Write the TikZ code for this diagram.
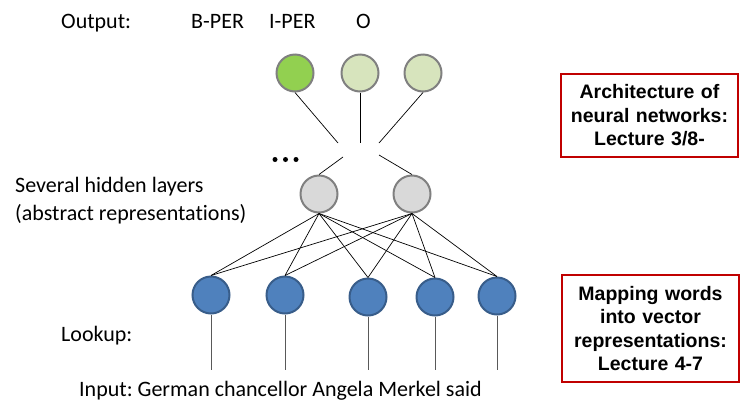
\documentclass[tikz,border=0pt]{standalone}
\usepackage{fontspec}
\setmainfont[Ligatures=NoCommon]{Carlito}
\newfontfamily\boxfont{Liberation Sans}
\definecolor{outon}{HTML}{92D050}
\definecolor{outoff}{HTML}{D7E4BD}
\definecolor{hidfill}{HTML}{D9D9D9}
\definecolor{ringgray}{HTML}{808080}
\definecolor{wordfill}{HTML}{4F81BD}
\definecolor{wordring}{HTML}{385D8A}
\definecolor{boxred}{HTML}{C00000}
\frenchspacing

\tikzset{
	unit/.style={circle, line width=2pt, minimum size=37pt, inner sep=0pt},
	label/.style={anchor=base west, inner sep=0pt, font=\fontsize{22}{27}\selectfont},
	notebox/.style={draw=boxred, line width=2pt, text width=170pt, align=center,
		font=\boxfont\bfseries\fontsize{19.5}{23.5}\selectfont},
	wire/.style={line width=0.7pt},
	stem/.style={line width=1pt, draw=black!65}
}

\begin{document}
\begin{tikzpicture}[x=1pt, y=-1pt]
			\useasboundingbox (0,0) rectangle (754,408);

			\node[unit, draw=ringgray, fill=outon]  (o1) at (295, 73) {};
			\node[unit, draw=ringgray, fill=outoff] (o2) at (360, 73) {};
			\node[unit, draw=ringgray, fill=outoff] (o3) at (423, 73) {};
			\node[unit, draw=ringgray, fill=hidfill] (h1) at (319,194) {};
			\node[unit, draw=ringgray, fill=hidfill] (h2) at (412,194) {};
			\node[unit, draw=wordring, fill=wordfill] (w1) at (211,295) {};
			\node[unit, draw=wordring, fill=wordfill] (w2) at (285,295) {};
			\node[unit, draw=wordring, fill=wordfill] (w3) at (368,297) {};
			\node[unit, draw=wordring, fill=wordfill] (w4) at (435,297) {};
			\node[unit, draw=wordring, fill=wordfill] (w5) at (497,296) {};

			% loose ends above and below
			\coordinate (a1) at (338,143);
			\coordinate (a2) at (360,143);
			\coordinate (a3) at (379,143);
			\coordinate (b1) at (343,157);
			\coordinate (b2) at (379,155);
			\foreach \w/\x in {1/211, 2/285, 3/368, 4/435, 5/497}
			{	\coordinate (e\w) at (\x,370);
			}

			\def\upper {o1/a1, o2/a2, o3/a3}  % output to gap
			\foreach \u\v in \upper
			{	\draw[wire] (\u.south) -- (\v);
			}
			\def\gap {b1/h1, b2/h2}  % gap to hidden
			\foreach \u\v in \gap
			{	\draw[wire] (\u) -- (\v.north);
			}
			\foreach \h in {h1, h2}
			{	\foreach \w in {w1, w2, w3, w4, w5}
				{	\draw[wire] (\h.south) -- (\w.north);
				}
			}
			\foreach \w in {1,...,5}
			{	\draw[stem] (w\w.south) -- (e\w);
			}

			\foreach \x [count=\i] in {275, 285.5, 296}
			{	\fill (\x,159.5) circle (2.5pt) coordinate (dot\i);
			}

			\node[label] (outtxt) at (61,28)  {Output:};
			\node[label] (tag1)   at (191,28) {B-PER};
			\node[label] (tag2)   at (269,28) {I-PER};
			\node[label] (tag3)   at (356,28) {O};
			\node[label] (hidtxt) at (15,192) {Several hidden layers};
			\node[label] (abstxt) at (15,220) {(abstract representations)};
			\node[label] (looktxt) at (61,341) {Lookup:};
			\node[label] (intxt)  at (79,396) {Input: German chancellor Angela Merkel said};

			\node[notebox, minimum height=83pt] (arch) at (649.5,115.5)
				{Architecture of\\neural networks:\\Lecture 3/8-};
			\node[notebox, minimum height=107pt] (map) at (650.5,328.5)
				{Mapping words\\into vector\\representations:\\Lecture 4-7};
		\end{tikzpicture}
\end{document}
